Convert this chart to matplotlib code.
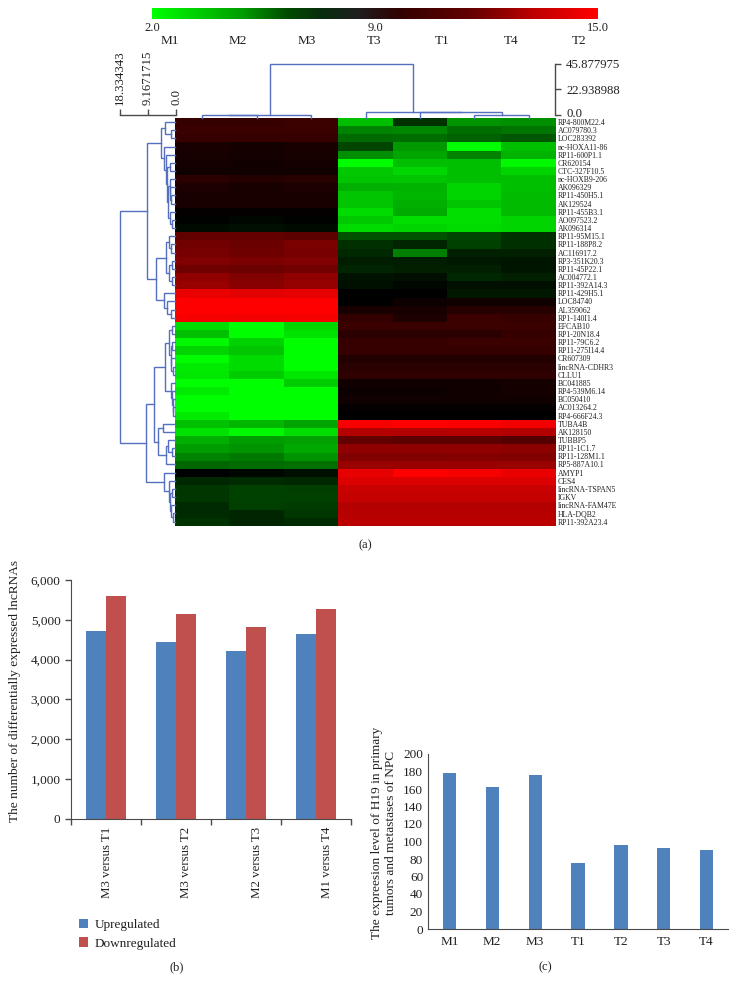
#!/usr/bin/python
import numpy as np
import matplotlib
matplotlib.use('Agg')
import matplotlib.pyplot as plt
from matplotlib.colors import LinearSegmentedColormap, TwoSlopeNorm
from matplotlib.transforms import ScaledTranslation

plt.rcParams['font.family'] = ['Liberation Serif', 'DejaVu Serif']
plt.rcParams['text.color'] = '#231f20'
plt.rcParams['axes.labelcolor'] = '#231f20'
plt.rcParams['xtick.labelcolor'] = '#231f20'
plt.rcParams['ytick.labelcolor'] = '#231f20'

W, H = 736.0, 981.0

# heatmap data
sample_header = ['M1', 'M2', 'M3', 'T3', 'T1', 'T4', 'T2']
genes = ['RP4-800M22.4', 'AC079780.3', 'LOC283392', 'nc-HOXA11-86', 'RP11-600P1.1',
         'CR620154', 'CTC-327F10.5', 'nc-HOXB9-206', 'AK096329', 'RP11-450H5.1',
         'AK129524', 'RP11-455B3.1', 'AO097523.2', 'AK096314', 'RP11-95M15.1',
         'RP11-188P8.2', 'AC116917.2', 'RP3-351K20.3', 'RP11-45P22.1', 'AC004772.1',
         'RP11-392A14.3', 'RP11-429H5.1', 'LOC84740', 'AL359062', 'RP1-140I1.4',
         'EFCAB10', 'RP1-20N18.4', 'RP11-79C6.2', 'RP11-275I14.4', 'CR607309',
         'lincRNA-CDHR3', 'CLLU1', 'BC041885', 'RP4-539M6.14', 'BC050410',
         'AC013264.2', 'RP4-666F24.3', 'TUBA4B', 'AK128150', 'TUBBP5',
         'RP11-1C1.7', 'RP11-128M1.1', 'RP5-887A10.1', 'AMYP1', 'CES4',
         'lincRNA-TSPAN5', 'IGKV', 'lincRNA-FAM47E', 'HLA-DQB2', 'RP11-392A23.4']
heat_rows = [
    [10.3, 10.3, 10.4, 3.8, 7.6, 4.9, 5.1],
    [10.4, 10.4, 10.4, 5.4, 5.3, 6.0, 5.8],
    [10.3, 10.3, 10.3, 6.1, 6.0, 6.3, 6.6],
    [9.6, 9.5, 9.6, 7.1, 4.8, 2.0, 3.8],
    [9.6, 9.5, 9.6, 5.1, 4.5, 5.4, 4.1],
    [9.5, 9.4, 9.5, 2.1, 3.8, 3.8, 2.2],
    [9.4, 9.4, 9.4, 3.5, 3.1, 3.8, 3.2],
    [10.0, 9.8, 9.9, 3.6, 3.6, 3.8, 3.8],
    [9.7, 9.6, 9.7, 4.2, 4.1, 3.2, 3.8],
    [9.6, 9.6, 9.6, 3.6, 4.0, 3.2, 3.9],
    [9.6, 9.6, 9.6, 3.6, 4.2, 3.6, 3.9],
    [9.1, 9.1, 9.1, 3.0, 4.3, 2.9, 3.9],
    [8.9, 8.8, 8.9, 3.5, 2.9, 2.9, 3.2],
    [8.7, 8.6, 8.7, 3.0, 3.2, 3.0, 3.2],
    [11.3, 11.3, 11.2, 6.8, 6.8, 7.1, 7.7],
    [11.7, 11.5, 11.9, 7.7, 8.0, 7.2, 7.7],
    [11.8, 11.6, 11.8, 7.9, 5.5, 8.1, 8.1],
    [12.0, 11.9, 12.0, 8.2, 8.2, 8.3, 8.4],
    [11.6, 11.5, 11.7, 8.0, 8.1, 8.1, 8.4],
    [12.4, 12.0, 12.4, 8.5, 8.6, 7.9, 8.1],
    [12.6, 12.2, 12.5, 8.6, 8.8, 8.6, 8.6],
    [14.5, 14.3, 14.4, 9.0, 9.0, 8.3, 8.3],
    [15.0, 15.0, 15.0, 9.0, 9.3, 9.4, 9.4],
    [15.0, 15.0, 15.0, 9.6, 9.6, 9.9, 9.9],
    [14.8, 14.7, 14.8, 10.2, 9.7, 10.4, 10.3],
    [3.0, 2.0, 3.2, 10.4, 10.4, 10.4, 10.4],
    [3.7, 2.1, 2.8, 10.0, 10.0, 10.0, 10.3],
    [2.2, 3.3, 2.0, 10.3, 10.3, 10.4, 10.4],
    [3.2, 3.6, 2.0, 10.3, 10.3, 10.3, 10.3],
    [2.1, 3.0, 2.0, 9.8, 9.8, 9.8, 9.8],
    [2.6, 3.0, 2.0, 10.0, 10.0, 10.0, 10.0],
    [2.7, 3.4, 2.7, 10.1, 10.1, 10.1, 10.1],
    [2.0, 2.0, 3.4, 9.4, 9.4, 9.4, 9.5],
    [2.6, 2.0, 2.0, 9.3, 9.3, 9.4, 9.5],
    [2.0, 2.0, 2.0, 9.4, 9.4, 9.4, 9.4],
    [2.0, 2.0, 2.0, 9.1, 9.1, 9.1, 9.1],
    [2.6, 2.0, 2.0, 9.0, 9.0, 9.0, 9.0],
    [3.7, 4.0, 4.5, 14.8, 15.0, 14.9, 14.7],
    [2.8, 2.2, 2.9, 13.2, 13.2, 13.3, 13.2],
    [4.2, 4.7, 4.6, 11.3, 11.2, 11.2, 11.0],
    [4.7, 4.9, 4.4, 12.4, 12.4, 12.4, 12.3],
    [5.4, 5.7, 5.0, 12.0, 12.0, 12.1, 12.0],
    [6.2, 6.1, 5.9, 12.6, 12.6, 12.6, 12.6],
    [9.0, 8.8, 8.6, 14.4, 15.0, 14.8, 14.5],
    [7.9, 7.8, 7.9, 14.2, 14.2, 14.2, 14.2],
    [7.5, 7.2, 7.3, 13.7, 13.7, 13.7, 13.7],
    [7.5, 7.2, 7.2, 13.6, 13.6, 13.6, 13.6],
    [7.8, 7.3, 7.4, 13.2, 13.2, 13.2, 13.2],
    [7.8, 8.0, 7.5, 13.3, 13.3, 13.3, 13.3],
    [7.6, 8.0, 7.8, 13.4, 13.4, 13.4, 13.4],
]

# trees: (merge height, child, child), ints are leaves
col_tree = (45.88, (2.4, (2.6, 0, 1), 2), (5.0, 3, (4.8, 4, (2.8, 5, 6))))
rows_a = (4.7,
          (3.3, 0, (1.3, 1, 2)),
          (3.7, 3, (2.9, 4, (2.5, (1.7, 5, 6),
                             (2.2, (1.8, 7, (1.5, 8, (1.2, 9, 10))), (1.6, 11, (0.9, 12, 13)))))))
rows_b = (6.3,
          (3.0, (2.0, 14, (1.4, 15, 16)), (1.9, (1.1, 17, 18), (1.0, 19, 20))),
          (3.7, 21, (2.6, 22, (1.4, 23, 24))))
rows_c1 = (3.3,
           (1.9, (0.9, 25, 26), (1.4, (0.9, 27, 28), (1.2, 29, (0.7, 30, 31)))),
           (1.3, 32, (1.0, 33, (0.7, 34, (0.5, 35, 36)))))
rows_c2 = (5.6, (4.1, 37, 38), (3.0, (2.2, 39, (1.0, 40, 41)), 42))
rows_d = (3.6, 43, (2.1, 44, (1.7, (1.0, 45, 46), (1.2, 47, (0.8, 48, 49)))))
row_tree = (18.33, (9.3, rows_a, rows_b), (9.7, (7.0, rows_c1, rows_c2), rows_d))

col_scale_ticks = [0.0, 22.938988, 45.877975]
col_scale_labels = ['0.0', '22.938988', '45.877975']
row_scale_ticks = [0.0, 9.1671715, 18.334343]
row_scale_labels = ['0.0', '9.1671715', '18.334343']
bar_ticks = ['2.0', '9.0', '15.0']

# panel b
comparisons = ['M3 versus T1', 'M3 versus T2', 'M2 versus T3', 'M1 versus T4']
upregulated = [4720, 4430, 4210, 4650]
downregulated = [5600, 5150, 4830, 5280]

# panel c
h19_samples = ['M1', 'M2', 'M3', 'T1', 'T2', 'T3', 'T4']
h19_level = [178, 162, 176, 76, 96, 93, 90]

BLUE = '#4f81bd'
RED = '#c0504d'
TREE = '#5670c0'
AXIS = '#4a4a4a'


def px_axes(fig, x0, y0, x1, y1):
    # axes from pixel box, y measured from the top
    return fig.add_axes([x0 / W, 1 - y1 / H, (x1 - x0) / W, (y1 - y0) / H])


def draw_tree(ax, node, horizontal=False):
    if not isinstance(node, tuple):
        return node, 0.0
    h, left, right = node
    pa, ha = draw_tree(ax, left, horizontal)
    pb, hb = draw_tree(ax, right, horizontal)
    pos = [pa, pa, pb, pb]
    hts = [ha, h, h, hb]
    if horizontal:
        ax.plot(hts, pos, color=TREE, lw=1.0, solid_joinstyle='miter', clip_on=False)
    else:
        ax.plot(pos, hts, color=TREE, lw=1.0, solid_joinstyle='miter', clip_on=False)
    return (pa + pb) / 2.0, h


def only_spine(ax, name):
    ax.patch.set_alpha(0)
    for s in ax.spines:
        ax.spines[s].set_visible(s == name)
    ax.spines[name].set_color(AXIS)
    ax.spines[name].set_linewidth(1.0)


fig = plt.figure(figsize=(W / 100, H / 100), dpi=100)

# heatmap
heat_cmap = LinearSegmentedColormap.from_list('gbr', [(0, 1, 0), (0, 0, 0), (1, 0, 0)])
bar_cmap = LinearSegmentedColormap.from_list('gbr2', [
    (0.0, (0, 1, 0)), (0.2, (0, 0.62, 0)), (0.3, (0, 0.3, 0)), (0.38, (0.03, 0.18, 0.05)),
    (0.46, (0.12, 0.12, 0.12)), (0.56, (0.2, 0, 0)), (0.72, (0.4, 0, 0)),
    (0.86, (0.75, 0, 0)), (1.0, (1, 0, 0))])
ax = px_axes(fig, 175, 118, 556, 525.6)
ax.imshow(np.array(heat_rows), cmap=heat_cmap, aspect='auto', interpolation='nearest',
          norm=TwoSlopeNorm(vmin=2, vcenter=9, vmax=15))
ax.set_xticks([])
ax.yaxis.tick_right()
ax.set_yticks(range(len(genes)))
ax.set_yticklabels(genes, fontsize=5.6)
ax.tick_params(axis='y', length=0, pad=1.5)
for s in ax.spines.values():
    s.set_visible(False)

# colour bar
cax = px_axes(fig, 152, 8, 598, 19)
cax.imshow(np.linspace(0, 1, 256).reshape(1, -1), cmap=bar_cmap, aspect='auto')
cax.axis('off')
for t, xp in zip(bar_ticks, [152, 375, 598]):
    fig.text(xp / W, 1 - 28 / H, t, ha='center', va='center', fontsize=9)
for t, xp in zip(sample_header, np.linspace(170, 579, 7)):
    fig.text(xp / W, 1 - 41.5 / H, t, ha='center', va='center', fontsize=9.5)

# column dendrogram
dax = px_axes(fig, 175, 64, 556, 118)
draw_tree(dax, col_tree)
dax.set_xlim(-0.5, 6.5)
dax.set_ylim(0, 45.88)
dax.axis('off')

sax = px_axes(fig, 545, 64, 555, 115)
only_spine(sax, 'right')
sax.set_ylim(0, 45.877975)
sax.set_xticks([])
sax.yaxis.tick_right()
sax.set_yticks(col_scale_ticks)
sax.set_yticklabels(col_scale_labels, fontsize=9.2)
sax.tick_params(axis='y', length=4, width=1, color=AXIS, pad=4)
# lift the 0.0 label off the first gene name
zero_label = sax.get_yticklabels()[0]
zero_label.set_transform(zero_label.get_transform() + ScaledTranslation(0, 2 / 72, fig.dpi_scale_trans))

# row dendrogram
rax = px_axes(fig, 120, 118, 175, 525.6)
draw_tree(rax, row_tree, horizontal=True)
rax.set_xlim(18.33, 0)
rax.set_ylim(len(genes) - 0.5, -0.5)
rax.axis('off')

tax = px_axes(fig, 120, 114.5, 176, 118)
only_spine(tax, 'top')
tax.set_xlim(18.334343, 0)
tax.set_yticks([])
tax.xaxis.tick_top()
tax.set_xticks(row_scale_ticks)
tax.set_xticklabels(row_scale_labels, fontsize=9.2, rotation=90)
tax.tick_params(axis='x', length=4, width=1, color=AXIS, pad=3)

fig.text(365 / W, 1 - 545 / H, '(a)', ha='center', va='center', fontsize=9)

# panel b
bx = px_axes(fig, 71, 580, 351, 818.7)
xb = np.arange(len(comparisons))
up_bars = bx.bar(xb - 0.143, upregulated, 0.286, color=BLUE, label='Upregulated')
down_bars = bx.bar(xb + 0.143, downregulated, 0.286, color=RED, label='Downregulated')
bx.set_xlim(-0.5, 3.5)
bx.set_ylim(0, 6000)
bx.set_yticks(range(0, 6001, 1000))
bx.set_yticklabels(['{:,}'.format(v) for v in range(0, 6001, 1000)], fontsize=9.5)
bx.set_xticks(np.arange(-0.5, 4.0, 1.0))
bx.set_xticklabels([])
# the labels sit a little right of their groups in the original
bx.set_xticks(xb + np.array([0.02, 0.14, 0.16, 0.16]), minor=True)
bx.set_xticklabels(comparisons, minor=True, rotation=90, fontsize=9.3)
bx.tick_params(axis='x', which='minor', length=0, pad=6)
bx.tick_params(axis='both', which='major', length=4, width=1, color=AXIS)
bx.spines['top'].set_visible(False)
bx.spines['right'].set_visible(False)
bx.spines['left'].set_color(AXIS)
bx.spines['bottom'].set_color(AXIS)
fig.text(15.5 / W, 1 - 691 / H, 'The number of differentially expressed lncRNAs',
         rotation=90, ha='center', va='center', fontsize=9.6)
bx.legend(handles=[up_bars, down_bars], loc='upper left', frameon=False, fontsize=9.5,
          bbox_to_anchor=(76.5 / W, 1 - 916 / H), bbox_transform=fig.transFigure,
          handlelength=0.7, handleheight=0.7, handletextpad=0.5, labelspacing=0.5,
          borderpad=0.2, borderaxespad=0)
fig.text(177 / W, 1 - 967 / H, '(b)', ha='center', va='center', fontsize=9)

# panel c
cx = px_axes(fig, 428, 754, 728, 929)
xc = np.arange(len(h19_samples))
cx.bar(xc, h19_level, 0.31, color=BLUE)
cx.set_xlim(-0.5, 6.5)
cx.set_ylim(0, 200)
cx.set_yticks(range(0, 201, 20))
cx.set_xticks(xc)
cx.set_xticklabels(h19_samples)
cx.tick_params(axis='both', length=0, labelsize=9.5)
cx.tick_params(axis='x', pad=5)
cx.spines['top'].set_visible(False)
cx.spines['right'].set_visible(False)
cx.spines['left'].set_color(AXIS)
cx.spines['bottom'].set_color(AXIS)
fig.text(384 / W, 1 - 833 / H, 'The expreesion level of H19 in primary\ntumors and metastases of NPC',
         ha='center', va='center', rotation=90, fontsize=9.6, multialignment='center', linespacing=1.3)
fig.text(545 / W, 1 - 967 / H, '(c)', ha='center', va='center', fontsize=9)

fig.savefig('out.png', dpi=100)
